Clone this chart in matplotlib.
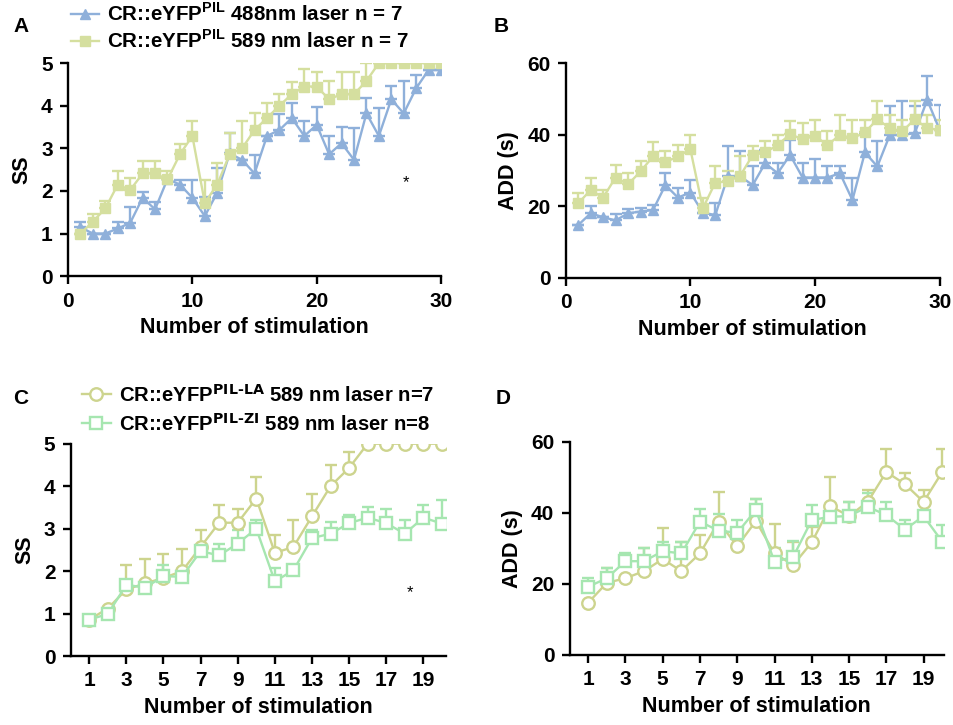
import matplotlib
matplotlib.use("Agg")
import matplotlib.pyplot as plt
import numpy as np

plt.rcParams['font.family'] = ['Liberation Sans', 'DejaVu Sans']
plt.rcParams['font.weight'] = 'bold'
plt.rcParams['axes.labelweight'] = 'bold'

# ---- data: panels A and B (30 stimulations) ----
stim30 = np.arange(1, 31)
ss_488 = [1.15, 1.0, 1.0, 1.12, 1.25, 1.84, 1.57, 2.28, 2.15, 1.84,
          1.41, 1.96, 2.88, 2.73, 2.41, 3.29, 3.43, 3.71, 3.29, 3.55,
          2.86, 3.12, 2.73, 3.82, 3.29, 4.15, 3.82, 4.41, 4.84, 4.84]
ss_488_top = [1.28, 1.0, 1.0, 1.28, 1.63, 1.98, 1.75, 2.28, 2.26, 2.26,
              1.87, 2.53, 3.35, 2.73, 2.84, 3.29, 3.81, 4.06, 3.63, 3.98,
              3.28, 3.49, 3.47, 4.19, 3.94, 4.47, 4.57, 4.73, 4.84, 4.84]
ss_589 = [1.0, 1.28, 1.59, 2.15, 2.02, 2.41, 2.41, 2.27, 2.86, 3.29,
          1.72, 2.15, 2.86, 3.0, 3.43, 3.71, 4.0, 4.27, 4.45, 4.45,
          4.15, 4.27, 4.27, 4.58, 5.0, 5.0, 5.0, 5.0, 5.0, 5.0]
ss_589_top = [1.0, 1.45, 1.76, 2.47, 2.30, 2.70, 2.70, 2.47, 3.10, 3.63,
              2.26, 2.65, 3.37, 3.63, 3.84, 4.06, 4.27, 4.55, 4.86, 4.78,
              4.59, 4.78, 4.78, 5.0, 5.0, 5.0, 5.0, 5.0, 5.0, 5.0]

add_488 = [14.7, 18.0, 16.9, 16.0, 18.0, 18.5, 18.9, 25.9, 22.4, 23.8,
           18.2, 17.5, 28.3, 28.3, 25.9, 32.0, 29.2, 34.3, 28.0, 28.0,
           28.0, 29.2, 21.7, 35.0, 31.1, 39.9, 39.9, 40.4, 49.7, 41.3]
add_488_top = [14.7, 19.9, 16.9, 17.7, 19.1, 19.4, 20.3, 29.4, 25.0, 27.3,
               18.2, 21.0, 36.7, 35.3, 31.1, 35.7, 32.0, 38.5, 32.0, 33.1,
               31.1, 31.1, 27.8, 40.4, 38.3, 47.9, 49.5, 47.9, 56.5, 48.3]
add_589 = [20.8, 24.5, 22.4, 28.0, 26.1, 29.7, 33.9, 32.3, 33.9, 35.9,
           19.4, 26.6, 26.9, 28.5, 34.3, 35.0, 37.1, 40.1, 38.7, 39.6,
           37.1, 39.9, 39.0, 40.6, 44.3, 41.8, 40.9, 44.3, 41.8, 41.3]
add_589_top = [23.6, 27.8, 24.5, 31.5, 29.4, 32.5, 37.8, 35.3, 37.1, 39.9,
               22.2, 31.1, 29.7, 33.9, 36.7, 38.1, 39.9, 43.7, 43.2, 44.1,
               40.9, 45.5, 44.1, 44.1, 49.5, 45.5, 44.1, 49.5, 45.5, 44.1]

# ---- data: panels C and D (20 stimulations) ----
stim20 = np.arange(1, 21)
ss_la = [0.86, 1.12, 1.57, 1.71, 1.84, 2.0, 2.57, 3.14, 3.14, 3.71,
         2.43, 2.57, 3.29, 4.0, 4.43, 5.0, 5.0, 5.0, 5.0, 5.0]
ss_la_top = [0.86, 1.12, 2.14, 2.29, 2.41, 2.53, 2.98, 3.55, 3.46, 4.22,
             2.84, 3.20, 3.82, 4.51, 4.80, 5.0, 5.0, 5.0, 5.0, 5.0]
ss_zi = [0.86, 0.99, 1.68, 1.61, 1.88, 1.87, 2.47, 2.37, 2.65, 3.0,
         1.76, 2.02, 2.78, 2.88, 3.13, 3.26, 3.13, 2.88, 3.26, 3.12]
ss_zi_top = [0.86, 0.99, 1.75, 1.61, 2.14, 1.87, 2.47, 2.63, 2.96, 3.21,
             2.08, 2.02, 2.96, 3.16, 3.33, 3.51, 3.46, 3.20, 3.55, 3.68]

add_la = [14.7, 20.3, 21.6, 23.6, 27.0, 23.6, 28.6, 37.5, 30.6, 37.7,
          28.6, 25.3, 31.7, 41.9, 39.1, 43.1, 51.5, 48.1, 43.1, 51.5]
add_la_top = [14.7, 24.4, 21.6, 30.0, 35.8, 31.9, 33.9, 45.9, 34.7, 43.8,
              37.0, 31.9, 36.1, 50.1, 43.1, 46.4, 57.9, 51.1, 46.4, 57.9]
add_zi = [19.2, 21.6, 26.4, 26.4, 29.2, 28.6, 37.5, 35.0, 34.4, 40.8,
          26.2, 27.6, 38.0, 38.9, 39.1, 41.7, 39.4, 35.3, 39.1, 31.9]
add_zi_top = [21.6, 24.6, 28.8, 30.0, 31.9, 31.9, 41.2, 39.6, 38.0, 43.8,
              30.0, 32.1, 42.2, 41.7, 43.1, 45.6, 43.1, 38.0, 39.1, 36.6]

lab_488 = r"CR::eYFP$^{\mathregular{PIL}}$ 488nm laser n = 7"
lab_589 = r"CR::eYFP$^{\mathregular{PIL}}$ 589 nm laser n = 7"
lab_la = r"CR::eYFP$^{\text{PIL-LA}}$ 589 nm laser n=7"
lab_zi = r"CR::eYFP$^{\text{PIL-ZI}}$ 589 nm laser n=8"

blue = '#8fb0da'
yellow = '#d5df9f'
olive = '#cdd48e'
mint = '#a6e6b0'


def series(ax, x, y, top, color, marker, open_marker=False, ms=7.5):
    y = np.array(y)
    up = np.array(top) - y
    ax.errorbar(x, y, yerr=[np.zeros_like(up), up], fmt='none', ecolor=color,
                elinewidth=1.7, capsize=4.5, capthick=1.7, zorder=2)
    if open_marker:
        line, = ax.plot(x, y, color=color, lw=1.7, marker=marker, ms=ms,
                        mfc='white', mec=color, mew=1.7, zorder=3)
    else:
        line, = ax.plot(x, y, color=color, lw=1.7, marker=marker, ms=ms,
                        mfc=color, mec=color, zorder=3)
    return line


def style(ax, ylabel):
    for s in ['top', 'right']:
        ax.spines[s].set_visible(False)
    for s in ['left', 'bottom']:
        ax.spines[s].set_linewidth(1.7)
    ax.tick_params(direction='out', length=6, width=1.7, labelsize=15, pad=5)
    ax.set_xlabel("Number of stimulation", fontsize=15.5, labelpad=5)
    ax.set_ylabel(ylabel, fontsize=15.5, labelpad=6)


fig = plt.figure(figsize=(9.54, 7.25), dpi=100)

axA = fig.add_axes([0.0713, 0.619, 0.391, 0.294])
axB = fig.add_axes([0.593, 0.617, 0.392, 0.296])
axC = fig.add_axes([0.0741, 0.095, 0.393, 0.293])
axD = fig.add_axes([0.597, 0.0966, 0.3926, 0.294])

# A
hA1 = series(axA, stim30, ss_488, ss_488_top, blue, '^')
hA2 = series(axA, stim30, ss_589, ss_589_top, yellow, 's')
axA.set_xlim(0, 30)
axA.set_ylim(0, 5)
axA.set_xticks([0, 10, 20, 30])
axA.set_yticks([0, 1, 2, 3, 4, 5])
axA.text(27.2, 2.2, '*', fontsize=12, fontweight='normal', ha='center', va='center')
style(axA, "SS")
fig.legend([hA1, hA2], [lab_488, lab_589], loc='upper left',
           bbox_to_anchor=(0.066, 1.008), frameon=False, fontsize=14.8,
           handlelength=1.35, handletextpad=0.4, labelspacing=0.2,
           borderaxespad=0)

# B
series(axB, stim30, add_488, add_488_top, blue, '^')
series(axB, stim30, add_589, add_589_top, yellow, 's')
axB.set_xlim(0, 30)
axB.set_ylim(0, 60)
axB.set_xticks([0, 10, 20, 30])
axB.set_yticks([0, 20, 40, 60])
style(axB, "ADD (s)")

# C
hC1 = series(axC, stim20, ss_la, ss_la_top, olive, 'o', open_marker=True, ms=9)
hC2 = series(axC, stim20, ss_zi, ss_zi_top, mint, 's', open_marker=True, ms=9)
axC.set_xlim(0, 20.2)
axC.set_ylim(0, 5)
axC.set_xticks(range(1, 20, 2))
axC.set_yticks([0, 1, 2, 3, 4, 5])
axC.text(18.27, 1.5, '*', fontsize=12, fontweight='normal', ha='center', va='center')
style(axC, "SS")
fig.legend([hC1, hC2], [lab_la, lab_zi], loc='upper left',
           bbox_to_anchor=(0.077, 0.482), frameon=False, fontsize=14.6,
           handlelength=1.45, handletextpad=0.4, labelspacing=0.35,
           borderaxespad=0)

# D
series(axD, stim20, add_la, add_la_top, olive, 'o', open_marker=True, ms=9)
series(axD, stim20, add_zi, add_zi_top, mint, 's', open_marker=True, ms=9)
axD.set_xlim(0, 20.1)
axD.set_ylim(0, 60)
axD.set_xticks(range(1, 20, 2))
axD.set_yticks([0, 20, 40, 60])
style(axD, "ADD (s)")

for lbl, x, y in [('A', 0.014, 0.963), ('B', 0.517, 0.963),
                  ('C', 0.014, 0.451), ('D', 0.519, 0.451)]:
    fig.text(x, y, lbl, fontsize=15, fontweight='bold', ha='left', va='center')

fig.savefig("out.png", dpi=100, facecolor='white')
